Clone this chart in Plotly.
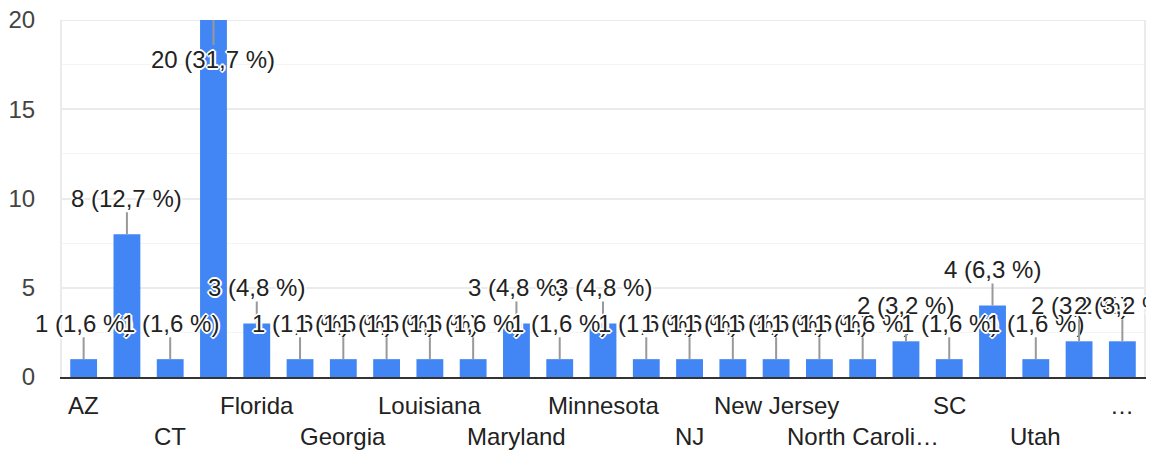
import plotly.graph_objects as go

categories = ["AZ", "CA", "CT", "Colorado", "Florida", "GA", "Georgia", "Illinois",
              "Louisiana", "MA", "Maryland", "Michigan", "Minnesota", "NC", "NJ", "NY",
              "New Jersey", "New York", "North Carolina", "Ohio", "SC", "Texas", "Utah",
              "Virginia", "Washington"]
values = [1, 8, 1, 20, 3, 1, 1, 1, 1, 1, 3, 1, 3, 1, 1, 1, 1, 1, 1, 2, 1, 4, 1, 2, 2]
# labels displayed under the axis (every other category, staggered in two rows)
tick_labels = ["AZ", "", "CT", "", "Florida", "", "Georgia", "", "Louisiana", "",
               "Maryland", "", "Minnesota", "", "NJ", "", "New Jersey", "",
               "North Caroli…", "", "SC", "", "Utah", "", "…"]
y_ticks = [0, 5, 10, 15, 20]

total = sum(values)
FONT = "Arial, 'Liberation Sans', sans-serif"
HALO = ("2px 0 0 #fff, -2px 0 0 #fff, 0 2px 0 #fff, 0 -2px 0 #fff, "
        "1px 1px 0 #fff, -1px -1px 0 #fff, 1px -1px 0 #fff, -1px 1px 0 #fff")

fig = go.Figure(go.Bar(x=categories, y=values, marker_color="#4285f4",
                       marker_line_width=0, hoverinfo="skip"))

annotations = []
for i, (c, v) in enumerate(zip(categories, values)):
    pct = f"{v / total * 100:.1f}".replace(".", ",")
    inside = v == max(values)
    annotations.append(dict(
        x=c, y=v, xref="x", yref="y",
        text=f"{v} ({pct} %)",
        showarrow=True, arrowhead=0, arrowwidth=2, arrowcolor="#999999",
        ax=0, ay=39 if inside else -36, standoff=0, borderpad=0,
        font=dict(family=FONT, size=24, color="#222222", shadow=HALO),
    ))

for i, (c, lab) in enumerate(zip(categories, tick_labels)):
    if not lab:
        continue
    row = (i // 2) % 2
    annotations.append(dict(
        x=c, y=0, xref="x", yref="paper", yanchor="middle",
        yshift=-28 if row == 0 else -59,
        text=lab, showarrow=False,
        font=dict(family=FONT, size=24, color="#222222"),
    ))

# top gridline at the axis maximum
shapes = [dict(type="line", xref="paper", yref="y", x0=0, x1=1,
               y0=y_ticks[-1], y1=y_ticks[-1], layer="below",
               line=dict(color="#ebebeb", width=2))]

# page body adds an 8px offset; figure sized so the plot lands where the reference has it
fig.update_layout(
    width=1146, height=444,
    margin=dict(l=54, r=10, t=12, b=75),
    paper_bgcolor="white", plot_bgcolor="white",
    bargap=0.38,
    showlegend=False,
    annotations=annotations,
    shapes=shapes,
    font=dict(family=FONT, size=24, color="#444444"),
    xaxis=dict(showticklabels=False, showgrid=False, ticks="", automargin=False,
               showline=True, linecolor="#333333", linewidth=2,
               range=[-0.5, len(categories) - 0.5], fixedrange=True),
    yaxis=dict(range=[0, 20], tickvals=y_ticks, ticktext=[str(t) for t in y_ticks],
               automargin=False, ticklabeloverflow="allow",
               showgrid=True, gridcolor="#ebebeb", gridwidth=2,
               minor=dict(dtick=2.5, showgrid=True, gridcolor="#f4f4f4", gridwidth=1),
               zeroline=False, showline=True, linecolor="#ebebeb", linewidth=2,
               mirror=True, ticks="", ticklabelstandoff=20,
               tickfont=dict(family=FONT, size=24, color="#444444")),
)

fig.write_html("out.html")
